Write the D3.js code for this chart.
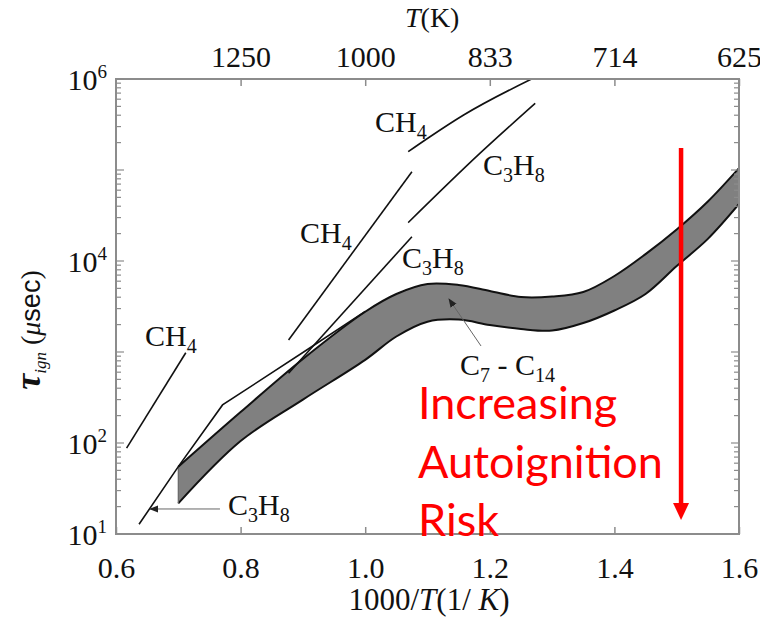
<!DOCTYPE html>
<html>
<head>
<meta charset="utf-8">
<script src="https://cdn.jsdelivr.net/npm/d3@7"></script>
<style>
  body { margin: 0; background: #fff; }
  svg { display: block; }
</style>
</head>
<body>
<svg id="chart" width="760" height="622"></svg>
<script>

// Ignition delay (usec) vs 1000/T

// C7 - C14 band
var band_x = [0.70, 0.80, 0.90, 1.00, 1.05, 1.10, 1.15, 1.20, 1.25, 1.30, 1.35, 1.40, 1.45, 1.50, 1.55, 1.60]
var band_upper = [55, 219, 838, 2770, 4340, 5590, 5450, 4680, 4020, 4070, 4560, 6840, 11900, 22200, 45100, 105000]
var band_lower = [21.7, 105, 300, 820, 1480, 2150, 2270, 1980, 1790, 1720, 2080, 2860, 4340, 8810, 17500, 42300]

// CH4 lines
var ch4_low_x = [0.617, 0.712]
var ch4_low_y = [88, 982]
var ch4_mid_x = [0.877, 1.075]
var ch4_mid_y = [1355, 95800]
var ch4_top_x = [1.069, 1.104, 1.158, 1.267]
var ch4_top_y = [159000, 232000, 402000, 1000000]

// C3H8 lines
var c3h8_low_x = [0.637, 0.700, 0.771, 0.911, 1.000]
var c3h8_low_y = [12.8, 55, 262, 1107, 2800]
var c3h8_mid_x = [0.877, 1.075]
var c3h8_mid_y = [583, 18500]
var c3h8_top_x = [1.069, 1.184, 1.273]
var c3h8_top_y = [26400, 152000, 541000]

// ticks
var bottom_ticks = [0.6, 0.8, 1.0, 1.2, 1.4, 1.6]
var bottom_labels = ["0.6", "0.8", "1.0", "1.2", "1.4", "1.6"]
var top_labels = ["1250", "1000", "833", "714", "625"]   // T (K) at 0.8 ... 1.6
var y_label_exp = [6, 4, 2, 1]

// species labels: [x, tau, parts]  (parts: [text, is_subscript])
var species_labels = [
  [1.0157, Math.pow(10, 5.418), [["CH", 0], ["4", 1]]],
  [1.1891, Math.pow(10, 4.945), [["C", 0], ["3", 1], ["H", 0], ["8", 1]]],
  [0.8953, Math.pow(10, 4.198), [["CH", 0], ["4", 1]]],
  [1.0591, Math.pow(10, 3.923), [["C", 0], ["3", 1], ["H", 0], ["8", 1]]],
  [0.6465, Math.pow(10, 3.066), [["CH", 0], ["4", 1]]],
  [0.7798, Math.pow(10, 1.209), [["C", 0], ["3", 1], ["H", 0], ["8", 1]]],
  [1.1522, Math.pow(10, 2.747), [["C", 0], ["7", 1], [" - C", 0], ["14", 1]]]
]

// pointer arrows [x1, tau1, x2, tau2] (arrowhead at the second point)
var pointers = [
  [0.7669, Math.pow(10, 1.275), 0.6546, Math.pow(10, 1.275)],
  [1.1859, Math.pow(10, 3.066), 1.1345, Math.pow(10, 3.582)]
]

var risk_lines = ["Increasing", "Autoignition", "Risk"]
var risk_arrow = [1.507, Math.pow(10, 5.242), Math.pow(10, 1.154)]


var margin = { left: 116, top: 79, right: 21, bottom: 88 }
var width = 760 - margin.left - margin.right
var height = 622 - margin.top - margin.bottom

var serif = "'Liberation Serif', 'DejaVu Serif', serif"
var frame_color = "#8c8c8c"

var svg = d3.select("#chart")

var chart = svg.append("g")
  .attr("transform", "translate(" + margin.left + "," + margin.top + ")")

var xscale = d3.scaleLinear().domain([0.6, 1.6]).range([0, width])
var yscale = d3.scaleLog().domain([10, 1e6]).range([height, 0])

// clip for the curves
chart.append("clipPath").attr("id", "plotclip")
  .append("rect").attr("width", width).attr("height", height)

var plot = chart.append("g").attr("clip-path", "url(#plotclip)")

// Band
var idx = d3.range(band_x.length)
var area = d3.area()
  .x(function (i) { return xscale(band_x[i]) })
  .y0(function (i) { return yscale(band_lower[i]) })
  .y1(function (i) { return yscale(band_upper[i]) })
  .curve(d3.curveCatmullRom)

plot.append("path")
  .datum(idx)
  .attr("d", area)
  .attr("fill", "#808080")
  .attr("stroke", "none")

var edge = function (arr) {
  return d3.line()
    .x(function (i) { return xscale(band_x[i]) })
    .y(function (i) { return yscale(arr[i]) })
    .curve(d3.curveCatmullRom)
}

plot.append("path").datum(idx).attr("d", edge(band_upper))
  .attr("fill", "none").attr("stroke", "#111").attr("stroke-width", 2)
plot.append("path").datum(idx).attr("d", edge(band_lower))
  .attr("fill", "none").attr("stroke", "#111").attr("stroke-width", 2)

// left edge of the band
plot.append("line")
  .attr("x1", xscale(band_x[0])).attr("x2", xscale(band_x[0]))
  .attr("y1", yscale(band_upper[0])).attr("y2", yscale(band_lower[0]))
  .attr("stroke", "#666").attr("stroke-width", 1.2)

// CH4 / C3H8 lines  [x, y, smooth?]
var series = [
  [ch4_low_x, ch4_low_y, false], [ch4_mid_x, ch4_mid_y, false], [ch4_top_x, ch4_top_y, true],
  [c3h8_low_x, c3h8_low_y, false], [c3h8_mid_x, c3h8_mid_y, false], [c3h8_top_x, c3h8_top_y, true]
]

series.forEach(function (s) {
  var line = d3.line()
    .x(function (i) { return xscale(s[0][i]) })
    .y(function (i) { return yscale(s[1][i]) })
    .curve(s[2] ? d3.curveMonotoneX : d3.curveLinear)
  plot.append("path")
    .datum(d3.range(s[0].length))
    .attr("d", line)
    .attr("fill", "none")
    .attr("stroke", "#111")
    .attr("stroke-width", 1.6)
})

// Frame
chart.append("rect")
  .attr("width", width).attr("height", height)
  .attr("fill", "none")
  .attr("stroke", frame_color)
  .attr("stroke-width", 2)

// Bottom axis
var xAxis = d3.axisBottom(xscale)
  .tickValues(bottom_ticks)
  .tickFormat(function (d, i) { return bottom_labels[i] })
  .tickSize(-7)
  .tickPadding(23)

var gx = chart.append("g")
  .attr("transform", "translate(0," + height + ")")
  .call(xAxis)
  .attr("font-family", serif)
  .attr("font-size", 30)
gx.select(".domain").remove()
gx.selectAll("line").attr("stroke", frame_color).attr("stroke-width", 1.5)
gx.selectAll("text").style("font-family", serif).style("font-size", "30px").attr("fill", "#111")

// Top axis (temperature)
var xAxisTop = d3.axisTop(xscale)
  .tickValues(bottom_ticks.slice(1))
  .tickFormat(function (d, i) { return top_labels[i] })
  .tickSize(-7)
  .tickPadding(12)

var gt = chart.append("g").call(xAxisTop)
  .attr("font-family", serif)
  .attr("font-size", 30)
gt.select(".domain").remove()
gt.selectAll("line").attr("stroke", frame_color).attr("stroke-width", 1.5)
gt.selectAll("text").style("font-family", serif).style("font-size", "30px").attr("fill", "#111")

// Log ticks on left and right
var minor = []
for (var e = 1; e < 6; e++) {
  for (var k = 1; k < 10; k++) minor.push(k * Math.pow(10, e))
}
minor.push(1e6)

var isDecade = function (d) { return Math.abs(Math.log10(d) % 1) < 1e-9 }

chart.append("g").selectAll("line")
  .data(minor)
  .enter().append("line")
  .attr("x1", 0)
  .attr("x2", function (d) { return isDecade(d) ? 8 : 5 })
  .attr("y1", function (d) { return yscale(d) })
  .attr("y2", function (d) { return yscale(d) })
  .attr("stroke", frame_color).attr("stroke-width", 1.2)

chart.append("g").selectAll("line")
  .data(minor)
  .enter().append("line")
  .attr("x1", width)
  .attr("x2", function (d) { return width - (isDecade(d) ? 8 : 5) })
  .attr("y1", function (d) { return yscale(d) })
  .attr("y2", function (d) { return yscale(d) })
  .attr("stroke", frame_color).attr("stroke-width", 1.2)

// y tick labels 10^n
var ylabs = chart.append("g").selectAll("text")
  .data(y_label_exp)
  .enter().append("text")
  .attr("x", -9)
  .attr("y", function (d) { return yscale(Math.pow(10, d)) + 11 })
  .attr("text-anchor", "end")
  .style("font-family", serif)
  .attr("font-size", 30)
  .attr("fill", "#111")

ylabs.append("tspan").text("10")
ylabs.append("tspan")
  .attr("font-size", 19)
  .attr("dy", -12)
  .text(function (d) { return d })

// Axis titles
var ttop = svg.append("text")
  .attr("x", 405).attr("y", 27)
  .style("font-family", serif).attr("font-size", 28).attr("fill", "#111")
ttop.append("tspan").attr("font-style", "italic").text("T")
ttop.append("tspan").text("(K)")

var tbot = svg.append("text")
  .attr("x", 429).attr("y", 610)
  .attr("text-anchor", "middle")
  .style("font-family", serif).attr("font-size", 31).attr("fill", "#111")
tbot.append("tspan").text("1000/")
tbot.append("tspan").attr("font-style", "italic").text("T")
tbot.append("tspan").text("(1/ ")
tbot.append("tspan").attr("font-style", "italic").text("K")
tbot.append("tspan").text(")")

var ytitle = svg.append("text")
  .attr("transform", "translate(40,330) rotate(-90)")
  .attr("text-anchor", "middle")
  .style("font-family", serif).attr("font-size", 28).attr("fill", "#111")
ytitle.append("tspan").attr("font-style", "italic").attr("font-weight", "bold").attr("font-size", 36).text("τ")
ytitle.append("tspan").attr("font-style", "italic").attr("font-size", 17).attr("dy", 6).text("ign")
ytitle.append("tspan").attr("dy", -6).text(" (")
ytitle.append("tspan").attr("font-style", "italic").text("μ")
ytitle.append("tspan").style("font-family", "'Liberation Sans', Arial, sans-serif").attr("font-size", 27).text("sec")
ytitle.append("tspan").text(")")

// Species labels
species_labels.forEach(function (s) {
  var t = chart.append("text")
    .attr("x", xscale(s[0]))
    .attr("y", yscale(s[1]))
    .style("font-family", serif)
    .attr("font-size", 30)
    .attr("fill", "#111")
  var shifted = false
  s[2].forEach(function (p) {
    var sp = t.append("tspan").text(p[0])
    if (p[1]) {
      sp.attr("font-size", 20)
      if (!shifted) { sp.attr("dy", 7); shifted = true }
    } else if (shifted) {
      sp.attr("dy", -7); shifted = false
    }
  })
})

// Pointer arrows
svg.append("defs").append("marker")
  .attr("id", "head")
  .attr("viewBox", "0 0 10 10")
  .attr("refX", 9).attr("refY", 5)
  .attr("markerWidth", 9).attr("markerHeight", 9)
  .attr("markerUnits", "userSpaceOnUse")
  .attr("orient", "auto")
  .append("path")
  .attr("d", "M0,1 L10,5 L0,9 Z")
  .attr("fill", "#222")

chart.selectAll(".pointer")
  .data(pointers)
  .enter().append("line")
  .attr("class", "pointer")
  .attr("x1", function (d) { return xscale(d[0]) })
  .attr("y1", function (d) { return yscale(d[1]) })
  .attr("x2", function (d) { return xscale(d[2]) })
  .attr("y2", function (d) { return yscale(d[3]) })
  .attr("stroke", "#666")
  .attr("stroke-width", 1)
  .attr("marker-end", "url(#head)")

// Red risk arrow
var ax = xscale(risk_arrow[0])
var ay1 = yscale(risk_arrow[1])
var ay2 = yscale(risk_arrow[2])
chart.append("line")
  .attr("x1", ax).attr("x2", ax)
  .attr("y1", ay1).attr("y2", ay2 - 14)
  .attr("stroke", "#ff0000")
  .attr("stroke-width", 4.5)
chart.append("path")
  .attr("d", "M" + (ax - 8) + "," + (ay2 - 17) + " L" + (ax + 8) + "," + (ay2 - 17) + " L" + ax + "," + ay2 + " Z")
  .attr("fill", "#ff0000")

// Red text
svg.append("g").selectAll("text")
  .data(risk_lines)
  .enter().append("text")
  .attr("x", 418)
  .attr("y", function (d, i) { return 419 + i * 58.5 })
  .style("font-family", "Lato, 'Open Sans', sans-serif")
  .attr("font-size", 45)
  .attr("fill", "#ff0000")
  .text(function (d) { return d })

</script>
</body>
</html>
